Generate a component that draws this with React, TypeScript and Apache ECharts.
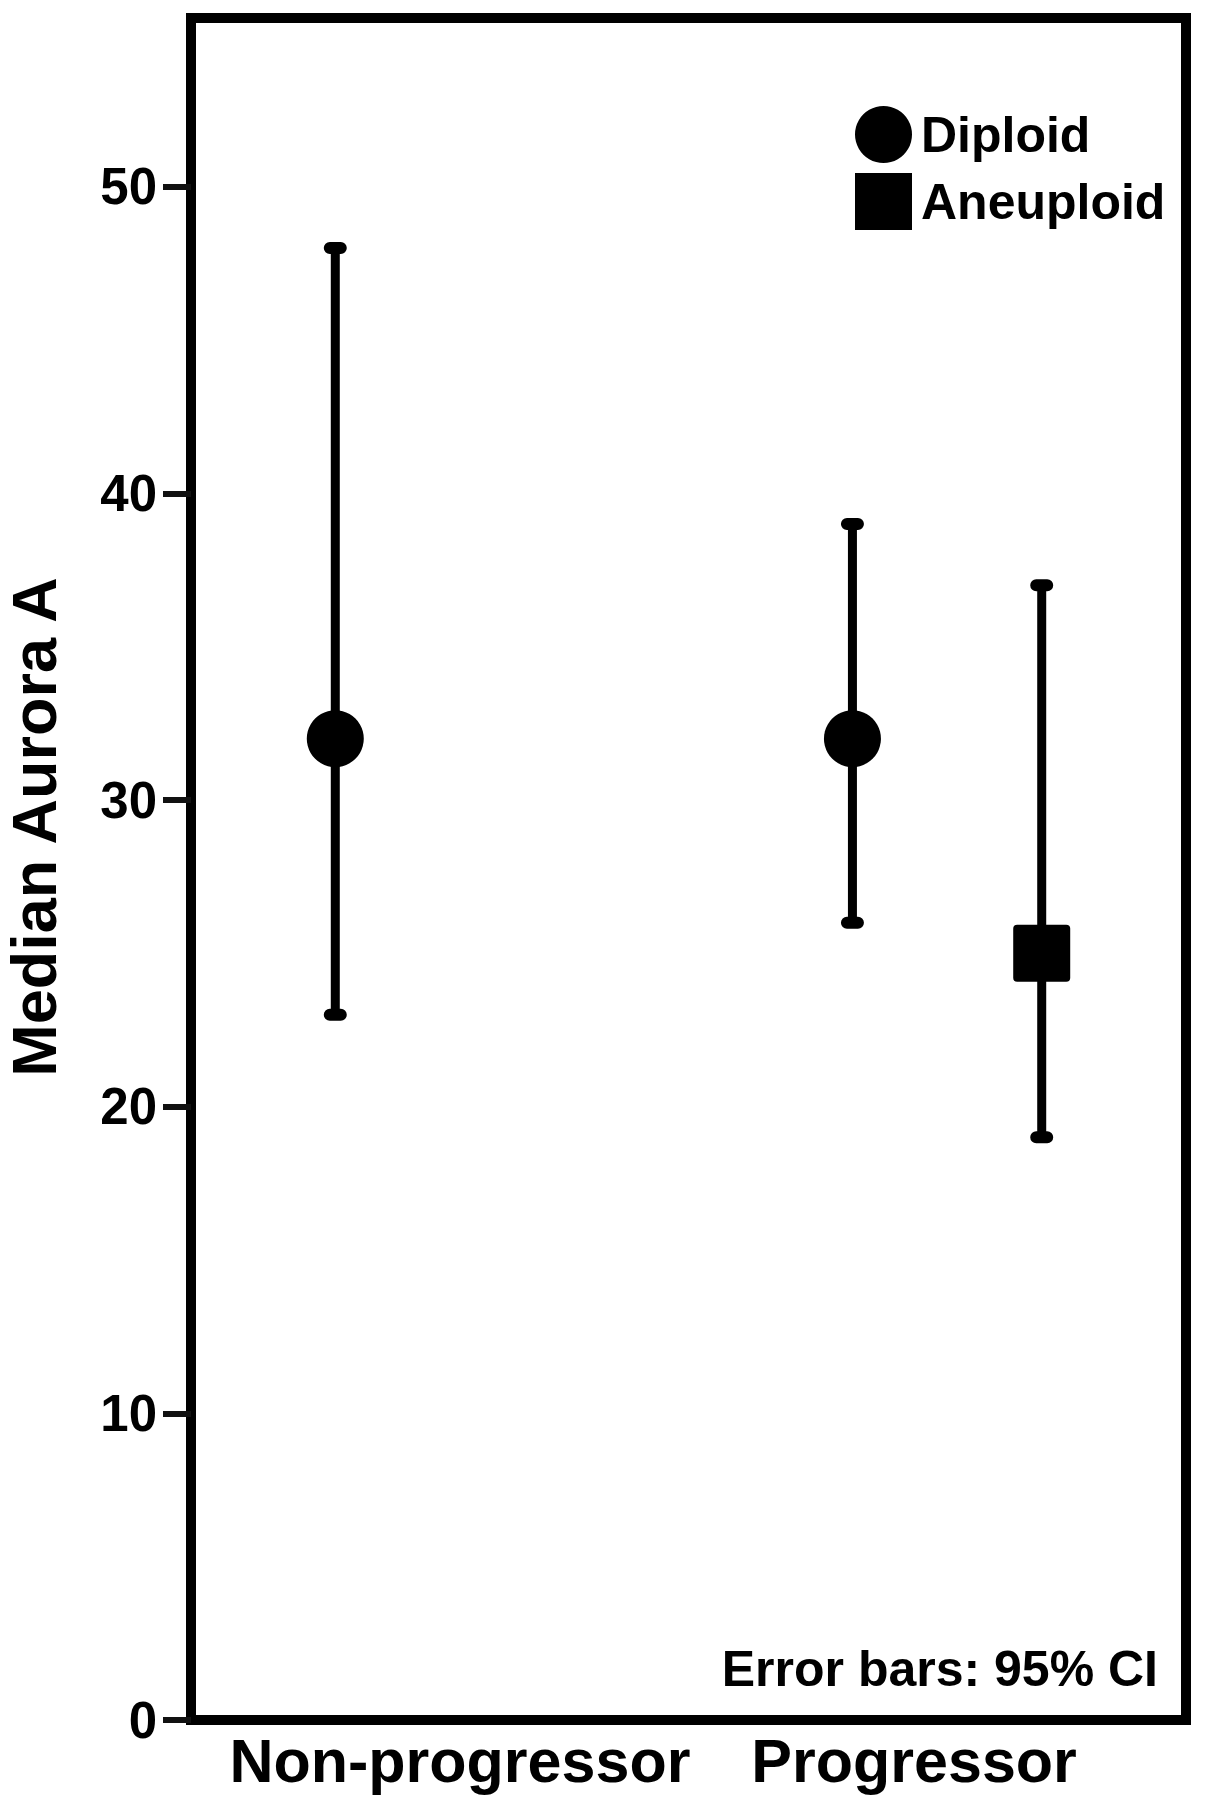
import React, { useEffect, useRef } from "react";
import * as echarts from "echarts";

const categories = ["Non-progressor", "Progressor"];
const groups = ["Diploid", "Aneuploid"];
const diploidMedian = [32, 32];
const diploidLow = [23, 26];
const diploidHigh = [48, 39];
const aneuploidMedian: (number | null)[] = [null, 25];
const aneuploidLow: (number | null)[] = [null, 19];
const aneuploidHigh: (number | null)[] = [null, 37];
const yTicks = [0, 10, 20, 30, 40, 50];

const FONT = "'Liberation Sans', Arial, Helvetica, sans-serif";

function buildData(med: (number | null)[], lo: (number | null)[], hi: (number | null)[]) {
  const out: number[][] = [];
  med.forEach((m, i) => {
    if (m !== null && lo[i] !== null && hi[i] !== null) out.push([i, m, lo[i] as number, hi[i] as number]);
  });
  return out;
}

function makeRender(offset: number, shape: "circle" | "square") {
  return (params: any, api: any) => {
    const x = api.value(0) + offset;
    const pMed = api.coord([x, api.value(1)]);
    const pLo = api.coord([x, api.value(2)]);
    const pHi = api.coord([x, api.value(3)]);
    const capW = 23;
    const capH = 12;
    const size = 57;
    const children: any[] = [
      {
        type: "line",
        shape: { x1: pLo[0], y1: pLo[1], x2: pHi[0], y2: pHi[1] },
        style: { stroke: "#000", lineWidth: 9 },
      },
      {
        type: "rect",
        shape: { x: pHi[0] - capW / 2, y: pHi[1] - capH / 2, width: capW, height: capH, r: 6 },
        style: { fill: "#000" },
      },
      {
        type: "rect",
        shape: { x: pLo[0] - capW / 2, y: pLo[1] - capH / 2, width: capW, height: capH, r: 6 },
        style: { fill: "#000" },
      },
    ];
    if (shape === "circle") {
      children.push({ type: "circle", shape: { cx: pMed[0], cy: pMed[1], r: size / 2 }, style: { fill: "#000" } });
    } else {
      children.push({
        type: "rect",
        shape: { x: pMed[0] - size / 2, y: pMed[1] - size / 2, width: size, height: size, r: 4 },
        style: { fill: "#000" },
      });
    }
    return { type: "group", children };
  };
}

export default function App() {
  const ref = useRef<HTMLDivElement>(null);
  useEffect(() => {
    if (!ref.current) return;
    const chart = echarts.init(ref.current, null, { renderer: "svg" });
    const option: any = {
      animation: false,
      backgroundColor: "#fff",
      grid: {
        left: 191,
        right: 19,
        top: 18,
        bottom: 89,
        containLabel: false,
        outerBoundsMode: "none",
        show: true,
        borderColor: "#000",
        borderWidth: 10,
        backgroundColor: "transparent",
      },
      legend: {
        orient: "vertical",
        left: 855,
        top: 106,
        padding: 0,
        itemWidth: 57,
        itemHeight: 57,
        itemGap: 10,
        selectedMode: false,
        textStyle: { fontSize: 50, fontWeight: "bold", fontFamily: FONT, color: "#000", padding: [0, 0, 0, 4] },
        data: [
          { name: groups[0], icon: "circle", itemStyle: { color: "#000" } },
          { name: groups[1], icon: "rect", itemStyle: { color: "#000" } },
        ],
      },
      xAxis: {
        type: "value",
        min: -0.462,
        max: 1.462,
        axisLine: { show: false, onZero: false },
        axisTick: { show: false },
        splitLine: { show: false },
        axisLabel: {
          customValues: [0, 1],
          margin: 10,
          formatter: (v: number) => (v === 0 ? `{a|${categories[0]}}` : `{b|${categories[1]}}`),
          rich: {
            a: { fontSize: 61, fontWeight: "bold", fontFamily: FONT, color: "#000", padding: [0, 0, 0, 60] },
            b: { fontSize: 61, fontWeight: "bold", fontFamily: FONT, color: "#000", padding: [0, 66, 0, 0] },
          },
        },
      },
      yAxis: {
        type: "value",
        position: "left",
        min: 0,
        max: 55.5,
        name: "Median Aurora A",
        nameLocation: "middle",
        nameGap: 126,
        nameRotate: 90,
        nameTextStyle: {
          fontSize: 63,
          fontWeight: "bold",
          fontFamily: FONT,
          color: "#000",
          padding: [0, 0, 0, 84],
        },
        axisLine: { show: false, onZero: false },
        splitLine: { show: false },
        axisTick: {
          show: true,
          customValues: yTicks,
          length: 28,
          lineStyle: { color: "#111", width: 6 },
        },
        axisLabel: {
          customValues: yTicks,
          margin: 34,
          fontSize: 51,
          fontWeight: "bold",
          fontFamily: FONT,
          color: "#000",
        },
      },
      graphic: [
        {
          type: "text",
          right: 47,
          top: 1644,
          style: {
            text: "Error bars: 95% CI",
            fontSize: 50,
            fontWeight: "bold",
            fontFamily: FONT,
            fill: "#000",
          },
        },
      ],
      series: [
        {
          name: groups[0],
          type: "custom",
          itemStyle: { color: "#000" },
          encode: { x: 0, y: [1, 2, 3] },
          renderItem: makeRender(-0.183, "circle"),
          data: buildData(diploidMedian, diploidLow, diploidHigh),
        },
        {
          name: groups[1],
          type: "custom",
          itemStyle: { color: "#000" },
          encode: { x: 0, y: [1, 2, 3] },
          renderItem: makeRender(0.183, "square"),
          data: buildData(aneuploidMedian, aneuploidLow, aneuploidHigh),
        },
      ],
    };
    chart.setOption(option);
    return () => chart.dispose();
  }, []);
  return (
    <div
      ref={ref}
      style={{ position: "absolute", left: 0, top: 0, width: 1205, height: 1809, background: "#fff" }}
    />
  );
}
